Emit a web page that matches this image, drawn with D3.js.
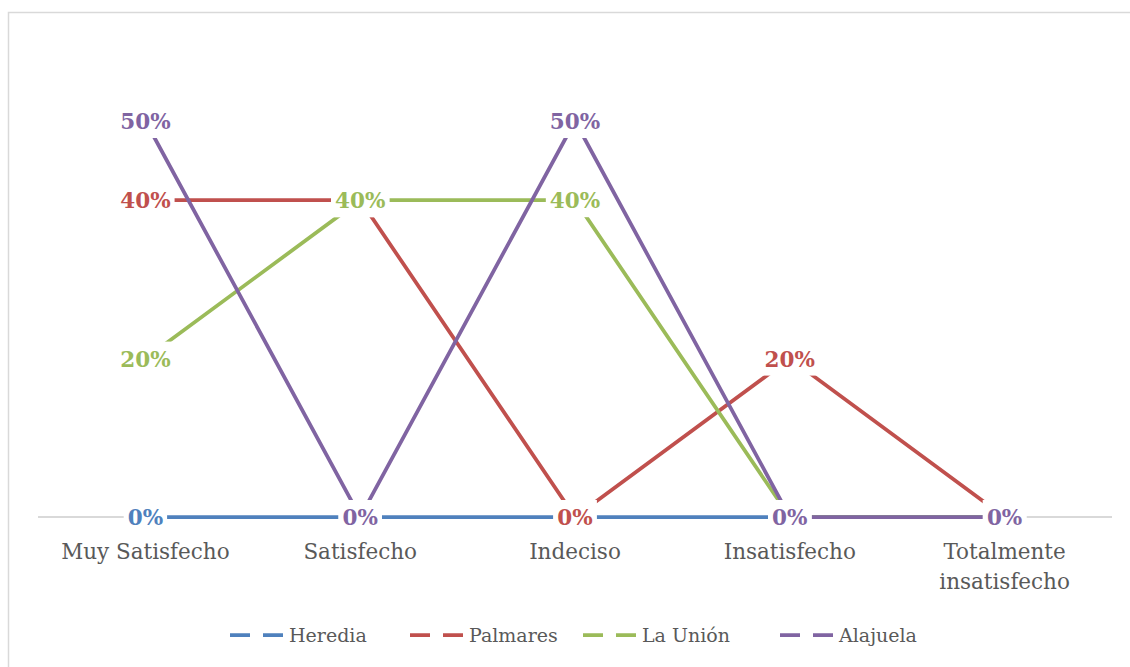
<!DOCTYPE html>
<html>
<head>
<meta charset="utf-8">
<script src="https://cdn.jsdelivr.net/npm/d3@7"></script>
<style>
  body { margin: 0; background: #fff; }
  svg { display: block; }
</style>
</head>
<body>
<svg id="chart" width="1130" height="667"></svg>
<script>
"use strict";

// categories and series
var categories = ["Muy Satisfecho", "Satisfecho", "Indeciso", "Insatisfecho", "Totalmente insatisfecho"];
var seriesNames = ["Heredia", "Palmares", "La Unión", "Alajuela"];
var seriesColors = ["#4f81bd", "#c0504d", "#9bbb59", "#8064a2"];
var heredia  = [0, 0, 0, 0, 0];
var palmares = [0.4, 0.4, 0, 0.2, 0];
var laUnion  = [0.2, 0.4, 0.4, 0, 0];
var alajuela = [0.5, 0, 0.5, 0, 0];

var seriesValues = [heredia, palmares, laUnion, alajuela];

var width = 1130, height = 667;
var margin = {left: 38, right: 18, top: 42, bottom: 150};
var serif = "'DejaVu Serif', 'Liberation Serif', serif";

var svg = d3.select("#chart");

// chart frame (right and bottom edges fall outside the picture)
svg.append("rect")
    .attr("x", 8.5).attr("y", 12.5)
    .attr("width", 1200).attr("height", 1000)
    .attr("fill", "#fff")
    .attr("stroke", "#d9d9d9")
    .attr("stroke-width", 1.5);

var x = d3.scaleBand()
    .domain(categories)
    .range([margin.left, width - margin.right]);

var y = d3.scaleLinear()
    .domain([0, 0.6])
    .range([height - margin.bottom, height - margin.bottom - 0.6 * 792]);

var yZero = y(0);

// axis line
svg.append("line")
    .attr("x1", x.range()[0]).attr("x2", x.range()[1])
    .attr("y1", yZero).attr("y2", yZero)
    .attr("stroke", "#d9d9d9")
    .attr("stroke-width", 2);

// category labels
var catLabels = svg.append("g").selectAll("text")
    .data(categories)
    .enter().append("text")
    .attr("x", function(d) { return x(d) + x.bandwidth() / 2; })
    .attr("y", yZero + 42)
    .attr("text-anchor", "middle")
    .attr("font-family", serif)
    .attr("font-size", 21.5)
    .attr("fill", "#595959");

catLabels.each(function(d) {
    var t = d3.select(this);
    var lines = d === "Totalmente insatisfecho" ? ["Totalmente", "insatisfecho"] : [d];
    lines.forEach(function(l, i) {
        t.append("tspan")
            .attr("x", x(d) + x.bandwidth() / 2)
            .attr("dy", i === 0 ? 0 : 30)
            .text(l);
    });
});

var line = d3.line()
    .x(function(d, i) { return x(categories[i]) + x.bandwidth() / 2; })
    .y(function(d) { return y(d); });

// lines first
svg.append("g").selectAll("path")
    .data(seriesValues)
    .enter().append("path")
    .attr("d", function(d) { return line(d); })
    .attr("fill", "none")
    .attr("stroke", function(d, i) { return seriesColors[i]; })
    .attr("stroke-width", 3.75);

// data labels with white boxes, later series on top
var fmt = d3.format(".0%");
seriesValues.forEach(function(vals, si) {
    var g = svg.append("g");
    vals.forEach(function(v, ci) {
        var cx = x(categories[ci]) + x.bandwidth() / 2;
        var cy = y(v);
        var lbl = g.append("g");
        var box = lbl.append("rect").attr("fill", "#fff");
        var txt = lbl.append("text")
            .attr("x", cx)
            .attr("y", cy + 8)
            .attr("text-anchor", "middle")
            .attr("font-family", serif)
            .attr("font-weight", "bold")
            .attr("font-size", 21.5)
            .attr("fill", seriesColors[si])
            .text(fmt(v));
        var w = txt.node().getComputedTextLength();
        box.attr("x", cx - w / 2 - 4)
            .attr("y", cy - 17)
            .attr("width", w + 8)
            .attr("height", 34);
    });
});

// legend
var legendItems = [
    {x: 230, name: seriesNames[0], color: seriesColors[0]},
    {x: 410, name: seriesNames[1], color: seriesColors[1]},
    {x: 583, name: seriesNames[2], color: seriesColors[2]},
    {x: 780, name: seriesNames[3], color: seriesColors[3]}
];

var legend = svg.append("g").selectAll("g")
    .data(legendItems)
    .enter().append("g")
    .attr("transform", function(d) { return "translate(" + d.x + ",635)"; });

legend.append("line")
    .attr("x1", 0).attr("x2", 54)
    .attr("y1", 0).attr("y2", 0)
    .attr("stroke", function(d) { return d.color; })
    .attr("stroke-width", 3.75)
    .attr("stroke-dasharray", "20,13");

legend.append("text")
    .attr("x", 59)
    .attr("y", 7)
    .attr("font-family", serif)
    .attr("font-size", 19)
    .attr("fill", "#595959")
    .text(function(d) { return d.name; });
</script>
</body>
</html>
